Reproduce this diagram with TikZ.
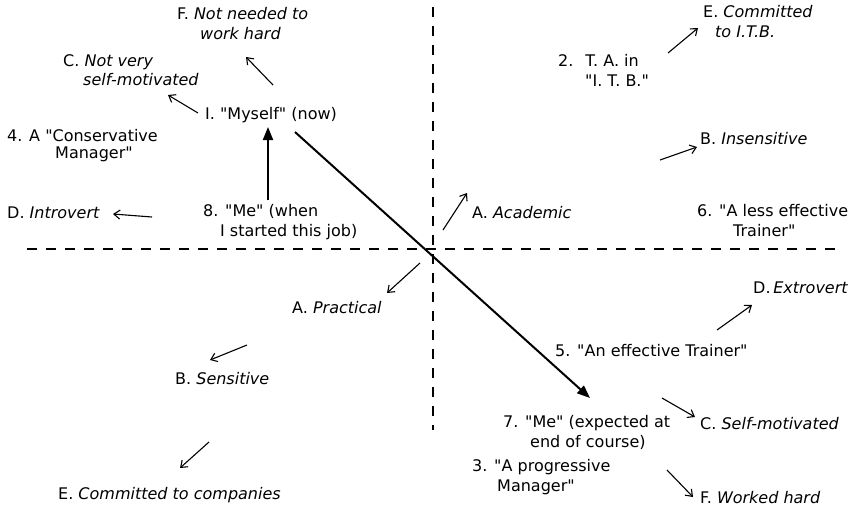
\documentclass[tikz,border=0pt]{standalone}
\usepackage{fontspec}
\setmainfont{DejaVu Sans}
\usetikzlibrary{arrows.meta}
\newcommand\qd{\textquotedbl}
\tikzset{
  lbl/.style={inner sep=0pt, anchor=north west, align=left,
    font=\fontsize{16}{19.5}\selectfont, execute at begin node=\strut},
  thin/.style={line width=1.1pt, -{Straight Barb[length=6pt,width=9pt,line width=1.1pt]}},
  heavy/.style={line width=2pt, -{Triangle[length=13pt,width=10pt]}},
  axis/.style={line width=1.6pt, dash pattern=on 10pt off 9pt}
}
\begin{document}
\begin{tikzpicture}[x=1pt,y=-1pt]
\useasboundingbox (0,0) rectangle (853,507);
% axes
\coordinate (vT) at (433,7);
\coordinate (vB) at (433,430);
\coordinate (hL) at (27,249);
\coordinate (hR) at (842,249);
\draw[axis] (vT) -- (vB);
\draw[axis] (hL) -- (hR);
% labels
\node[lbl] (nF) at (177,7.2) {F. \textit{Not needed to}\\\hspace*{23pt}\textit{work hard}};
\node[lbl] (nC) at (63,54.2) {C. \textit{Not very}\\\hspace*{20pt}\textit{self-motivated}};
\node[lbl] (n1) at (205,105.2) {I. \qd Myself\qd\ (now)};
\node[lbl, font=\fontsize{16}{17}\selectfont] (n4) at (7,129.2) {4. A \qd Conservative\\\hspace*{48pt}Manager\qd};
\node[lbl] (nD) at (7,204.2) {D. \textit{Introvert}};
\node[lbl] (n8) at (203,204.2) {8. \qd Me\qd\ (when\\\hspace*{17pt}I started this job)};
\node[lbl] (nE) at (703,5.2) {E. \textit{Committed}\\\hspace*{12pt}\textit{to I.T.B.}};
\node[lbl] (n2) at (558,54.2) {2. \ T. A. in\\\hspace*{27pt}\qd I. T. B.\qd};
\node[lbl] (nB) at (700,130.2) {B. \textit{Insensitive}};
\node[lbl] (nA) at (472,204.2) {A. \textit{Academic}};
\node[lbl] (n6) at (697,204.2) {6. \qd A less effective\\\hspace*{36pt}Trainer\qd};
\node[lbl] (nAp) at (292,299.2) {A. \textit{Practical}};
\node[lbl] (nBs) at (175,370.2) {B. \textit{Sensitive}};
\node[lbl] (nEc) at (58,485.2) {E. \textit{Committed to companies}};
\node[lbl] (nDe) at (753,279.2) {D.\,\textit{Extrovert}};
\node[lbl] (n5) at (555,342.2) {5. \qd An effective Trainer\qd};
\node[lbl] (n7) at (503,415.2) {7. \qd Me\qd\ (expected at\\\hspace*{27pt}end of course)};
\node[lbl] (nCs) at (700,415.2) {C. \textit{Self-motivated}};
\node[lbl] (n3) at (472,459.2) {3. \qd A progressive\\\hspace*{25pt}Manager\qd};
\node[lbl] (nFw) at (700,489.2) {F. \textit{Worked hard}};
% arrow ends
\coordinate (aF0) at (273,85);  \coordinate (aF1) at (246,57);
\coordinate (aC0) at (198,113); \coordinate (aC1) at (168,95);
\coordinate (aD0) at (152,217); \coordinate (aD1) at (113,214);
\coordinate (aE0) at (668,53);  \coordinate (aE1) at (698,28);
\coordinate (aB0) at (660,160); \coordinate (aB1) at (697,147);
\coordinate (aA0) at (443,230); \coordinate (aA1) at (467,193);
\coordinate (aAp0) at (420,263); \coordinate (aAp1) at (387,293);
\coordinate (aBs0) at (247,345); \coordinate (aBs1) at (210,360);
\coordinate (aEc0) at (209,442); \coordinate (aEc1) at (180,468);
\coordinate (aDe0) at (717,330); \coordinate (aDe1) at (752,305);
\coordinate (aCs0) at (662,398); \coordinate (aCs1) at (695,417);
\coordinate (aFw0) at (667,470); \coordinate (aFw1) at (693,497);
\coordinate (m8) at (268,200);  \coordinate (m1) at (268,127);
\coordinate (d1) at (295,132);  \coordinate (d7) at (590,398);
% arrows
\draw[thin] (aF0) -- (aF1);
\draw[thin] (aC0) -- (aC1);
\draw[thin] (aD0) -- (aD1);
\draw[thin] (aE0) -- (aE1);
\draw[thin] (aB0) -- (aB1);
\draw[thin] (aA0) -- (aA1);
\draw[thin] (aAp0) -- (aAp1);
\draw[thin] (aBs0) -- (aBs1);
\draw[thin] (aEc0) -- (aEc1);
\draw[thin] (aDe0) -- (aDe1);
\draw[thin] (aCs0) -- (aCs1);
\draw[thin] (aFw0) -- (aFw1);
\draw[heavy] (m8) -- (m1);
\draw[heavy] (d1) -- (d7);
\end{tikzpicture}
\end{document}
